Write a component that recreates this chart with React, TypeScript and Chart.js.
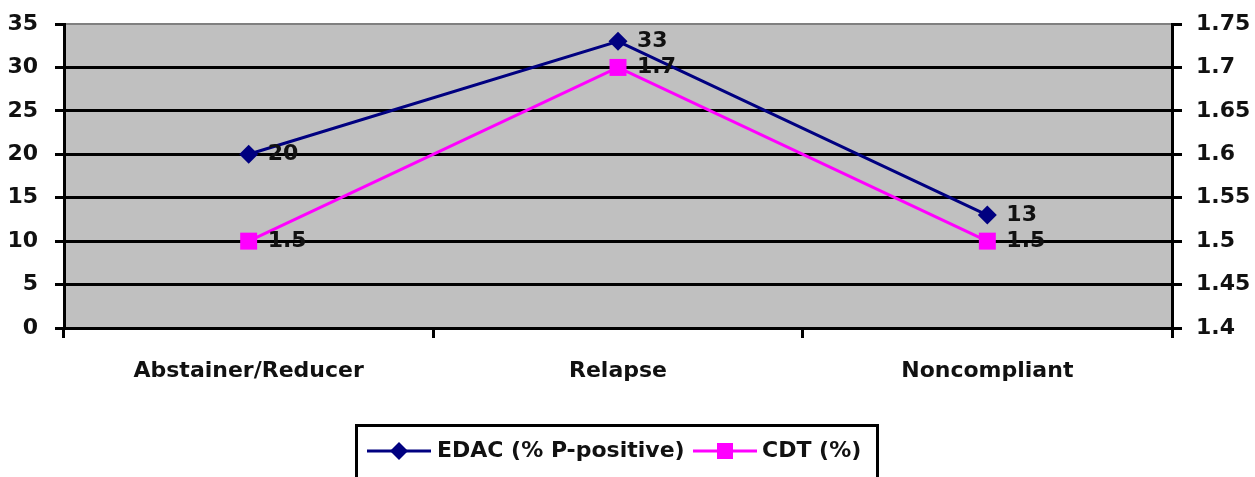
import React, { useEffect, useRef } from "react";
import { Chart, registerables } from "chart.js";

Chart.register(...registerables);

const categories = ["Abstainer/Reducer", "Relapse", "Noncompliant"];
const edacValues = [20, 33, 13];
const cdtValues = [1.5, 1.7, 1.5];
const edacLabels = ["20", "33", "13"];
const cdtLabels = ["1.5", "1.7", "1.5"];
const seriesNames = ["EDAC (% P-positive)", "CDT (%)"];

const FONT = "'DejaVu Sans', sans-serif";
const NAVY = "#000080";
const MAGENTA = "#FF00FF";

const bgPlugin = {
  id: "plotBg",
  beforeDraw(chart: any) {
    const { ctx, chartArea: a } = chart;
    ctx.save();
    ctx.fillStyle = "#C0C0C0";
    ctx.fillRect(a.left, a.top, a.right - a.left, a.bottom - a.top);
    ctx.strokeStyle = "#808080";
    ctx.lineWidth = 2;
    ctx.strokeRect(a.left, a.top, a.right - a.left, a.bottom - a.top);
    ctx.restore();
  },
};

const labelPlugin = {
  id: "valueLabels",
  afterDatasetsDraw(chart: any) {
    const { ctx } = chart;
    const sets = [edacLabels, cdtLabels];
    ctx.save();
    ctx.font = `bold 22px ${FONT}`;
    ctx.fillStyle = "#111";
    ctx.textAlign = "left";
    ctx.textBaseline = "middle";
    chart.data.datasets.forEach((_: any, di: number) => {
      const meta = chart.getDatasetMeta(di);
      meta.data.forEach((pt: any, i: number) => {
        ctx.fillText(sets[di][i], pt.x + 19, pt.y);
      });
    });
    ctx.restore();
  },
};

const legendPlugin = {
  id: "boxLegend",
  afterDraw(chart: any) {
    const { ctx } = chart;
    ctx.save();
    ctx.strokeStyle = "#000";
    ctx.lineWidth = 3;
    ctx.strokeRect(356.5, 425.5, 521, 60);
    const y = 451;
    // EDAC
    ctx.strokeStyle = NAVY;
    ctx.lineWidth = 3;
    ctx.beginPath();
    ctx.moveTo(367, y);
    ctx.lineTo(431, y);
    ctx.stroke();
    ctx.fillStyle = NAVY;
    ctx.beginPath();
    ctx.moveTo(399, y - 9);
    ctx.lineTo(408, y);
    ctx.lineTo(399, y + 9);
    ctx.lineTo(390, y);
    ctx.closePath();
    ctx.fill();
    // CDT
    ctx.strokeStyle = MAGENTA;
    ctx.beginPath();
    ctx.moveTo(693, y);
    ctx.lineTo(757, y);
    ctx.stroke();
    ctx.fillStyle = MAGENTA;
    ctx.fillRect(717, y - 8, 16, 16);
    ctx.fillStyle = "#111";
    ctx.font = `bold 22px ${FONT}`;
    ctx.textAlign = "left";
    ctx.textBaseline = "middle";
    ctx.fillText(seriesNames[0], 437, y);
    ctx.fillText(seriesNames[1], 762, y);
    ctx.restore();
  },
};

export default function App() {
  const ref = useRef<HTMLCanvasElement | null>(null);

  useEffect(() => {
    document.body.style.margin = "0";
    const canvas = ref.current;
    if (!canvas) return;
    const chart = new Chart(canvas, {
      type: "line",
      data: {
        labels: categories,
        datasets: [
          {
            label: seriesNames[0],
            data: edacValues,
            yAxisID: "y",
            borderColor: NAVY,
            backgroundColor: NAVY,
            borderWidth: 3,
            pointStyle: "rectRot",
            pointRadius: 9.5,
            pointBorderWidth: 0,
            tension: 0,
          },
          {
            label: seriesNames[1],
            data: cdtValues,
            yAxisID: "y1",
            borderColor: MAGENTA,
            backgroundColor: MAGENTA,
            borderWidth: 3,
            pointStyle: "rect",
            pointRadius: 12,
            pointBorderWidth: 0,
            tension: 0,
          },
        ],
      },
      options: {
        animation: false,
        responsive: false,
        devicePixelRatio: 1,
        layout: { padding: { top: 24, left: 0, right: 0, bottom: 0 } },
        plugins: {
          legend: { display: false },
          tooltip: { enabled: false },
        },
        scales: {
          x: {
            offset: true,
            grid: {
              offset: true,
              drawOnChartArea: false,
              color: "#000",
              lineWidth: 3,
              tickLength: 10,
            },
            border: { color: "#000", width: 3 },
            ticks: {
              color: "#111",
              font: { family: FONT, size: 22, weight: "bold" },
              padding: 20,
              maxRotation: 0,
            },
            afterFit(scale: any) {
              scale.height = 149;
              scale.paddingLeft = 0;
              scale.paddingRight = 0;
            },
          },
          y: {
            position: "left",
            min: 0,
            max: 35,
            ticks: {
              stepSize: 5,
              color: "#111",
              font: { family: FONT, size: 22, weight: "bold" },
              padding: 17,
            },
            grid: {
              color: (c: any) => (c.tick && c.tick.value === 35 ? "rgba(0,0,0,0)" : "#000"),
              tickColor: "#000",
              lineWidth: 3,
              tickLength: 9,
            },
            border: { color: "#000", width: 3 },
            afterFit(scale: any) {
              scale.width = 64;
              scale.paddingTop = 0;
              scale.paddingBottom = 0;
            },
          },
          y1: {
            position: "right",
            min: 1.4,
            max: 1.75,
            ticks: {
              stepSize: 0.05,
              color: "#111",
              font: { family: FONT, size: 22, weight: "bold" },
              padding: 14,
              callback: (v: any) => String(Number(Number(v).toFixed(2))),
            },
            grid: {
              drawOnChartArea: false,
              color: "#000",
              lineWidth: 3,
              tickLength: 10,
            },
            border: { color: "#000", width: 3 },
            afterFit(scale: any) {
              scale.width = 83;
              scale.paddingTop = 0;
              scale.paddingBottom = 0;
            },
          },
        },
      },
      plugins: [bgPlugin, labelPlugin, legendPlugin],
    });
    return () => chart.destroy();
  }, []);

  return (
    <div style={{ position: "absolute", left: 0, top: 0, width: 1255, height: 477 }}>
      <canvas ref={ref} width={1255} height={477} style={{ display: "block" }} />
    </div>
  );
}
